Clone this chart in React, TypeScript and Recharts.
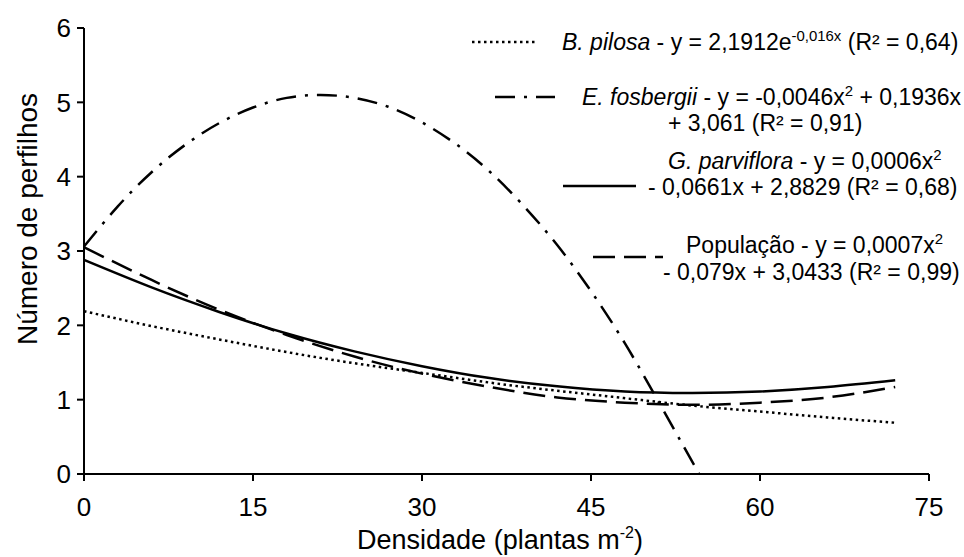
import React from 'react';
import { LineChart, Line, XAxis, YAxis } from 'recharts';

// densidade (plantas m-2) and curve values
const densidade = [0, 6, 12, 18, 24, 30, 36, 42, 48, 54, 60, 66, 72];
const bPilosa = [2.19, 1.99, 1.81, 1.64, 1.49, 1.36, 1.23, 1.12, 1.02, 0.92, 0.84, 0.76, 0.69];
const gParviflora = [2.88, 2.51, 2.18, 1.89, 1.65, 1.45, 1.29, 1.18, 1.11, 1.09, 1.11, 1.17, 1.26];
const populacao = [3.05, 2.61, 2.21, 1.87, 1.58, 1.35, 1.17, 1.03, 0.96, 0.93, 0.96, 1.03, 1.17];

const densidadeEf = [0, 3, 6, 9, 12, 15, 18, 21, 24, 27, 30, 33, 36, 39, 42, 45, 48, 51, 54.6];
const eFosbergii = [3.06, 3.6, 4.06, 4.43, 4.72, 4.93, 5.06, 5.1, 5.06, 4.94, 4.73, 4.44, 4.07, 3.61, 3.08, 2.46, 1.76, 0.97, 0];

const xTicks = [0, 15, 30, 45, 60, 75];
const yTicks = [0, 1, 2, 3, 4, 5, 6];

const toPoints = (xs: number[], ys: number[]) => xs.map((x, i) => ({ x, y: ys[i] }));

const FONT = '"Liberation Sans", Arial, sans-serif';

const DOTTED = '2.5 3.5';
const DASH_DOT = '20 9 3 9';
const DASHED = '22 9';

const Sample = ({ x1, x2, y, dash }: { x1: number; x2: number; y: number; dash?: string }) => (
  <svg style={{ position: 'absolute', left: x1, top: y - 3 }} width={x2 - x1} height={6}>
    <line x1={0} x2={x2 - x1} y1={3} y2={3} stroke="#000" strokeWidth={2.5} strokeDasharray={dash} />
  </svg>
);

const Txt = ({ x, y, children }: { x: number; y: number; children: React.ReactNode }) => (
  <div style={{ position: 'absolute', left: x, top: y - 10, fontSize: 23, lineHeight: '20px', whiteSpace: 'nowrap' }}>
    {children}
  </div>
);

const sup = { fontSize: '0.65em', verticalAlign: '0.6em', lineHeight: 0 } as React.CSSProperties;

const App = () => {
  return (
    <div style={{ position: 'absolute', left: 0, top: 0, width: 964, height: 557, background: '#fff', fontFamily: FONT }}>
      <LineChart width={964} height={557} margin={{ top: 28, right: 35, bottom: 33, left: 24 }}>
        <XAxis
          type="number"
          dataKey="x"
          domain={[0, 75]}
          ticks={xTicks}
          height={50}
          tickSize={7}
          tickMargin={17}
          axisLine={{ stroke: '#000', strokeWidth: 2 }}
          tickLine={{ stroke: '#000', strokeWidth: 2 }}
          tick={{ fill: '#000', fontSize: 26, fontFamily: FONT }}
          label={{
            content: () => (
              <text x={500} y={549} textAnchor="middle" fill="#000" fontSize={27} fontFamily={FONT}>
                Densidade (plantas m
                <tspan fontSize={16} dy={-11}>-2</tspan>
                <tspan dy={11}>)</tspan>
              </text>
            ),
          }}
        />
        <YAxis
          type="number"
          dataKey="y"
          domain={[0, 6]}
          ticks={yTicks}
          width={60}
          tickSize={7}
          tickMargin={6}
          axisLine={{ stroke: '#000', strokeWidth: 2 }}
          tickLine={{ stroke: '#000', strokeWidth: 2 }}
          tick={{ fill: '#000', fontSize: 26, fontFamily: FONT }}
          label={{
            content: () => (
              <text
                x={27}
                y={219}
                transform="rotate(-90 27 219)"
                textAnchor="middle"
                dominantBaseline="central"
                fill="#000"
                fontSize={28}
                fontFamily={FONT}
              >
                Número de perfilhos
              </text>
            ),
          }}
        />
        <Line data={toPoints(densidade, bPilosa)} dataKey="y" type="natural" stroke="#000" strokeWidth={2.5} strokeDasharray={DOTTED} dot={false} isAnimationActive={false} />
        <Line data={toPoints(densidadeEf, eFosbergii)} dataKey="y" type="natural" stroke="#000" strokeWidth={2.5} strokeDasharray={DASH_DOT} dot={false} isAnimationActive={false} />
        <Line data={toPoints(densidade, gParviflora)} dataKey="y" type="natural" stroke="#000" strokeWidth={2.5} dot={false} isAnimationActive={false} />
        <Line data={toPoints(densidade, populacao)} dataKey="y" type="natural" stroke="#000" strokeWidth={2.5} strokeDasharray={DASHED} dot={false} isAnimationActive={false} />
      </LineChart>

      {/* legend */}
      <div style={{ position: 'absolute', left: 0, top: 0, color: '#000' }}>
        <Sample x1={472} x2={535} y={42} dash={DOTTED} />
        <Txt x={562} y={42}>
          <i>B. pilosa</i> - y = 2,1912e<span style={sup}>-0,016x</span> (R² = 0,64)
        </Txt>

        <Sample x1={495} x2={555} y={97} dash={DASH_DOT} />
        <Txt x={582} y={97}>
          <i>E. fosbergii</i> - y = -0,0046x<span style={sup}>2</span> + 0,1936x
        </Txt>
        <Txt x={668} y={123}>
          + 3,061 (R² = 0,91)
        </Txt>

        <Txt x={668} y={161}>
          <i>G. parviflora</i> - y = 0,0006x<span style={sup}>2</span>
        </Txt>
        <Sample x1={563} x2={636} y={186} />
        <Txt x={648} y={187}>
          - 0,0661x + 2,8829 (R² = 0,68)
        </Txt>

        <Txt x={686} y={245}>
          População - y = 0,0007x<span style={sup}>2</span>
        </Txt>
        <Sample x1={593} x2={663} y={257} dash={DASHED} />
        <Txt x={663} y={272}>
          - 0,079x + 3,0433 (R² = 0,99)
        </Txt>
      </div>
    </div>
  );
};

export default App;
